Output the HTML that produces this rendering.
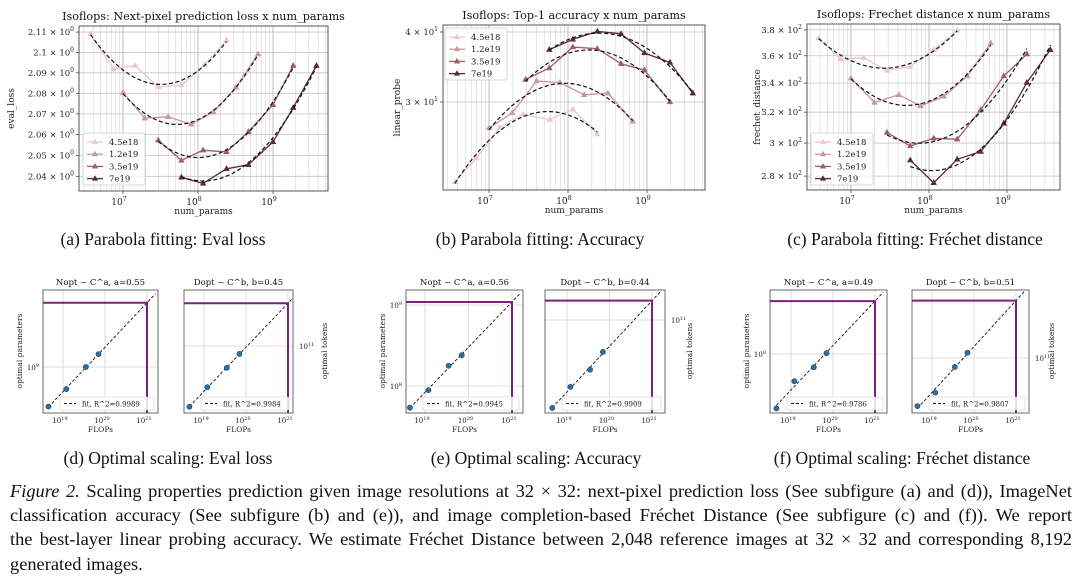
<!DOCTYPE html>
<html><head><meta charset="utf-8">
<style>
html,body{margin:0;padding:0;background:#fff;}
#wrap{position:relative;width:1080px;height:584px;overflow:hidden;}
svg{position:absolute;left:0;top:0;}
#caption{position:absolute;left:10px;top:479px;width:1062px;font-family:"Liberation Serif",serif;font-size:18.4px;line-height:24.2px;color:#111;}
#caption .ln{white-space:nowrap;text-align:justify;text-align-last:justify;}
#caption .ln.last{text-align-last:left;}
</style></head>
<body>
<div id="wrap">
<svg id="fig" width="1080" height="584" viewBox="0 0 1080 584"></svg>
<div id="caption">
<div class="ln"><i>Figure 2.</i> Scaling properties prediction given image resolutions at 32 × 32: next-pixel prediction loss (See subfigure (a) and (d)), ImageNet</div>
<div class="ln">classification accuracy (See subfigure (b) and (e)), and image completion-based Fréchet Distance (See subfigure (c) and (f)). We report</div>
<div class="ln">the best-layer linear probing accuracy. We estimate Fréchet Distance between 2,048 reference images at 32 × 32 and corresponding 8,192</div>
<div class="ln last">generated images.</div>
</div>
</div>
<script>
// ---------- DATA ----------
const seriesLabels = ['4.5e18','1.2e19','3.5e19','7e19'];
// (a) eval loss
const lossParams1 = [3.7e6,7.4e6,1.45e7,2.95e7,6e7,1.23e8,2.4e8];
const lossVals1   = [2.109,2.092,2.0935,2.083,2.084,2.094,2.106];
const lossParams2 = [1e7,1.95e7,4e7,8.1e7,1.6e8,3.2e8,6.3e8];
const lossVals2   = [2.0803,2.0679,2.0686,2.0650,2.0708,2.0829,2.0991];
const lossParams3 = [2.95e7,6e7,1.17e8,2.4e8,4.7e8,1e9,1.86e9];
const lossVals3   = [2.0573,2.0476,2.0525,2.0517,2.0614,2.0744,2.0935];
const lossParams4 = [6e7,1.17e8,2.4e8,4.7e8,1e9,1.86e9,3.8e9];
const lossVals4   = [2.0395,2.0366,2.0436,2.0455,2.0565,2.0730,2.0935];
// (b) accuracy
const accParams1 = [3.7e6,6.9e6,1.36e7,2.7e7,5.9e7,1.15e8,2.35e8];
const accVals1   = [21.6,23.8,27.0,28.5,27.9,29.1,26.3];
const accParams2 = [1e7,1.97e7,4e7,7.9e7,1.6e8,3.2e8,6.6e8];
const accVals2   = [26.96,28.7,32.7,32.5,30.9,31.1,27.7];
const accParams3 = [2.9e7,5.8e7,1.15e8,2.35e8,4.7e8,9.3e8,1.95e9];
const accVals3   = [32.9,34.5,37.6,37.35,35.1,34.2,30.0];
const accParams4 = [5.8e7,1.15e8,2.35e8,4.7e8,9.3e8,1.95e9,3.8e9];
const accVals4   = [37.2,38.8,40.1,39.7,36.7,35.3,31.1];
// (c) frechet
const fdParams1 = [3.85e6,7.3e6,1.45e7,2.9e7,5.75e7,1.15e8,2.3e8];
const fdVals1   = [373.5,357.5,358.5,349.2,352,364.5,379.5];
const fdParams2 = [1e7,2e7,4.1e7,7.8e7,1.55e8,3.1e8,6.2e8];
const fdVals2   = [343.5,326.5,331.8,324.2,330.7,345.1,369.7];
const fdParams3 = [2.9e7,5.75e7,1.15e8,2.3e8,4.6e8,9.1e8,1.8e9];
const fdVals3   = [306.7,298.2,303.0,302.4,321.5,345.1,361.3];
const fdParams4 = [5.75e7,1.15e8,2.3e8,4.6e8,9.1e8,1.8e9,3.6e9];
const fdVals4   = [289.5,276.1,290,294.7,312.6,340.4,364.5];
// tick labels
const lossTicks = [2.04,2.05,2.06,2.07,2.08,2.09,2.1,2.11];
const lossTickLabels = ['2.04','2.05','2.06','2.07','2.08','2.09','2.1','2.11'];
const accTicks = [30,40];
const accTickLabels = ['3','4'];
const fdTicks = [280,300,320,340,360,380];
const fdTickLabels = ['2.8','3','3.2','3.4','3.6','3.8'];
// bottom: optimal scaling
const flops = [4.5e18,1.2e19,3.5e19,7e19];
const lossNopt = [3.2e8,5.3e8,1e9,1.45e9];
const lossDopt = [2.4e10,3.8e10,6e10,8.3e10];
const accNopt = [5.4e7,8.9e7,1.78e8,2.4e8];
const accDopt = [1.48e10,2.34e10,3.4e10,5e10];
const fdNopt = [2.6e7,5.1e7,7.2e7,1.02e8];
const fdDopt = [2.8e10,4e10,7.9e10,1.15e11];
const fitR2 = ['0.9989','0.9984','0.9945','0.9909','0.9786','0.9807'];
const expLabels = ['a=0.55','b=0.45','a=0.56','b=0.44','a=0.49','b=0.51'];

// ---------- HELPERS ----------
const NS='http://www.w3.org/2000/svg';
const svg=document.getElementById('fig');
function mk(tag,attrs,parent){const e=document.createElementNS(NS,tag);for(const k in attrs)e.setAttribute(k,attrs[k]);(parent||svg).appendChild(e);return e;}
const SERIF='"DejaVu Serif","Liberation Serif",serif';
const colors=['#eec6cb','#c9979e','#9d5d68','#5b2a39'];
const lg=Math.log10;
function tri(g,x,y,c,s){return mk('path',{d:`M${x},${y-s} L${x+s*0.9},${y+s*0.6} L${x-s*0.9},${y+s*0.6} Z`,fill:c,stroke:c,'stroke-width':0.5},g);}
function fitQuad(xs,ys){
  let S=[0,0,0,0,0],T=[0,0,0];
  xs.forEach((x,i)=>{let p=1;for(let k=0;k<5;k++){S[k]+=p;if(k<3)T[k]+=p*ys[i];p*=x;}});
  const A=[[S[0],S[1],S[2],T[0]],[S[1],S[2],S[3],T[1]],[S[2],S[3],S[4],T[2]]];
  for(let i=0;i<3;i++){for(let j=i+1;j<3;j++){const f=A[j][i]/A[i][i];for(let k=i;k<4;k++)A[j][k]-=f*A[i][k];}}
  const c=[0,0,0];for(let i=2;i>=0;i--){let s=A[i][3];for(let k=i+1;k<3;k++)s-=A[i][k]*c[k];c[i]=s/A[i][i];}
  return x=>c[0]+c[1]*x+c[2]*x*x;
}

// ---------- TOP CHARTS ----------
function topChart(cfg){
  const g=mk('g',{});
  
  
  const {x0,x1,y0,y1,xl0,xl1,yl0,yl1}=cfg;
  const X=v=>x0+(lg(v)-xl0)/(xl1-xl0)*(x1-x0);
  const Y=v=>y1-(lg(v)-yl0)/(yl1-yl0)*(y1-y0);
  for(let d=6;d<=9;d++)for(let m=1;m<10;m++){const v=m*Math.pow(10,d);const px=X(v);if(px<=x0||px>=x1)continue;
    const ln=mk('line',{x1:px,x2:px,y1:y0,y2:y1,stroke:m===1?'#b8b8b8':'#d6d6d6','stroke-width':m===1?0.9:0.6},g);
    
    }
  cfg.ticks.forEach((t,i)=>{const py=Y(t);
    const ln=mk('line',{x1:x0,x2:x1,y1:py,y2:py,stroke:'#c4c4c4','stroke-width':0.8},g);
    
    
    mk('line',{x1:x0-3,x2:x0,y1:py,y2:py,stroke:'#333','stroke-width':0.7},g);
    const tx=mk('text',{x:x0-5,y:py+3,'text-anchor':'end','font-family':SERIF,'font-size':8.5,fill:'#222'},g);
    tx.textContent=cfg.tickLabels[i]+' × 10';
    const sp=mk('tspan',{dy:-4,'font-size':6},tx);sp.textContent=cfg.exp;
    
    });
  [7,8,9].forEach(d=>{const px=X(Math.pow(10,d));
    mk('line',{x1:px,x2:px,y1:y1,y2:y1+3,stroke:'#333','stroke-width':0.7},g);
    const tx=mk('text',{x:px-4,y:y1+14,'text-anchor':'middle','font-family':SERIF,'font-size':9,fill:'#222'},g);
    tx.textContent='10';const sp=mk('tspan',{dy:-4,'font-size':6.5},tx);sp.textContent=String(d);
    
    });
  const fr=mk('rect',{x:x0,y:y0,width:x1-x0,height:y1-y0,fill:'none',stroke:'#444','stroke-width':0.9},g);
  
  
  cfg.series.forEach((s,i)=>{
    const [xs,ys]=s;const c=colors[i];
    const pts=xs.map((x,k)=>X(x).toFixed(1)+','+Y(ys[k]).toFixed(1)).join(' ');
    const pl=mk('polyline',{points:pts,fill:'none',stroke:c,'stroke-width':1.3},g);
    
    
    xs.forEach((x,k)=>{const m=tri(g,X(x),Y(ys[k]),c,3.2);
      
      });
    const f=fitQuad(xs.map(lg),ys.map(lg));
    const a=lg(xs[0]),b=lg(xs[xs.length-1]);let d='';
    for(let k=0;k<=40;k++){const lx=a+(b-a)*k/40;const px=x0+(lx-xl0)/(xl1-xl0)*(x1-x0);const py=y1-(f(lx)-yl0)/(yl1-yl0)*(y1-y0);d+=(k?'L':'M')+px.toFixed(1)+','+py.toFixed(1);}
    const fp=mk('path',{d:d,fill:'none',stroke:'#111','stroke-width':1.2,'stroke-dasharray':'4,2.5'},g);
    
    
  });
  const L=cfg.legend;
  const lb=mk('rect',{x:L.x,y:L.y,width:62,height:52,rx:2,fill:'#fff','fill-opacity':0.85,stroke:'#ccc','stroke-width':0.8},g);
  
  
  seriesLabels.forEach((s,i)=>{const yy=L.y+9+i*12.2;
    mk('line',{x1:L.x+4,x2:L.x+20,y1:yy,y2:yy,stroke:colors[i],'stroke-width':1.3},g);
    tri(g,L.x+12,yy,colors[i],3);
    const t=mk('text',{x:L.x+26,y:yy+3,'font-family':SERIF,'font-size':8.5,fill:'#222'},g);t.textContent=s;
    
    });
  const tt=mk('text',{x:(x0+x1)/2,y:y0-6,'text-anchor':'middle','font-family':SERIF,'font-size':11.2,fill:'#111'},g);tt.textContent=cfg.title;
  
  
  const xt=mk('text',{x:(x0+x1)/2,y:y1+23,'text-anchor':'middle','font-family':SERIF,'font-size':9,fill:'#222'},g);xt.textContent='num_params';
  
  
  const yx=cfg.ylabX,yy=(y0+y1)/2;
  const yt=mk('text',{x:yx,y:yy,'text-anchor':'middle','font-family':SERIF,'font-size':9,fill:'#222',transform:`rotate(-90 ${yx} ${yy})`},g);yt.textContent=cfg.ylab;
  
  
  const cp=mk('text',{x:cfg.capX,y:245,'text-anchor':'middle','font-family':'"Liberation Serif",serif','font-size':17.5,fill:'#111'},g);cp.textContent=cfg.caption;
  
  
}
topChart({name:'eval-loss-chart',x0:79,x1:328,y0:26,y1:191,xl0:6.413,xl1:9.733,yl0:lg(2.033),yl1:lg(2.113),
  ticks:lossTicks,tickLabels:lossTickLabels,exp:'0',title:'Isoflops: Next-pixel prediction loss x num_params',ylab:'eval_loss',ylabX:14,
  series:[[lossParams1,lossVals1],[lossParams2,lossVals2],[lossParams3,lossVals3],[lossParams4,lossVals4]],legend:{x:83,y:133},capX:163,caption:'(a) Parabola fitting: Eval loss'});
topChart({name:'accuracy-chart',x0:443,x1:705,y0:25,y1:190,xl0:6.418,xl1:9.734,yl0:lg(20.89),yl1:lg(41.17),
  ticks:accTicks,tickLabels:accTickLabels,exp:'1',title:'Isoflops: Top-1 accuracy x num_params',ylab:'linear_probe',ylabX:400,
  series:[[accParams1,accVals1],[accParams2,accVals2],[accParams3,accVals3],[accParams4,accVals4]],legend:{x:445,y:28},capX:540,caption:'(b) Parabola fitting: Accuracy'});
topChart({name:'frechet-chart',x0:807,x1:1060,y0:24,y1:190,xl0:6.436,xl1:9.68,yl0:lg(272.0),yl1:lg(384.7),
  ticks:fdTicks,tickLabels:fdTickLabels,exp:'2',title:'Isoflops: Frechet distance x num_params',ylab:'frechet_distance',ylabX:760,
  series:[[fdParams1,fdVals1],[fdParams2,fdVals2],[fdParams3,fdVals3],[fdParams4,fdVals4]],legend:{x:811,y:133},capX:915,caption:'(c) Parabola fitting: Fréchet distance'});

// ---------- BOTTOM PANELS ----------
function scalePanel(p){
  const g=mk('g',{});
  
  
  const y0=290,y1=413;
  const X=lf=>p.x19+(lf-19)*p.dec;
  const Y=lv=>p.yrefPx-(lv-p.yref)*p.ppd;
  const cp=mk('clipPath',{id:'c'+p.name},g);mk('rect',{x:p.x0,y:y0,width:p.x1-p.x0,height:y1-y0},cp);
  const inner=mk('g',{'clip-path':`url(#c${p.name})`},g);
  [19,20,21].forEach(d=>{const px=X(d);
    mk('line',{x1:px,x2:px,y1:y0,y2:y1,stroke:'#d2d2d2','stroke-width':0.7},inner);
    const t=mk('text',{x:px-3,y:y1+10,'text-anchor':'middle','font-family':SERIF,'font-size':7,fill:'#222'},g);
    t.textContent='10';const sp=mk('tspan',{dy:-3,'font-size':5},t);sp.textContent=String(d);
    
    });
  p.yticks.forEach(d=>{const py=Y(d);
    mk('line',{x1:p.x0,x2:p.x1,y1:py,y2:py,stroke:'#d2d2d2','stroke-width':0.7},inner);
    const right=p.right;
    const t=mk('text',{x:right?p.x1+6:p.x0-4,y:py+3,'text-anchor':right?'start':'end','font-family':SERIF,'font-size':7,fill:'#222'},g);
    t.textContent='10';const sp=mk('tspan',{dy:-3,'font-size':5},t);sp.textContent=String(d);
    
    });
  const lx=flops.map(lg),ly=p.vals.map(lg);const n=lx.length;
  const mx=lx.reduce((a,b)=>a+b)/n,my=ly.reduce((a,b)=>a+b)/n;
  let sxy=0,sxx=0;lx.forEach((x,i)=>{sxy+=(x-mx)*(ly[i]-my);sxx+=(x-mx)*(x-mx);});
  const sl=sxy/sxx,ic=my-sl*mx;const F=x=>ic+sl*x;
  const fl=mk('line',{x1:X(lx[0]),y1:Y(F(lx[0])),x2:X(21.2),y2:Y(F(21.2)),stroke:'#111','stroke-width':0.9,'stroke-dasharray':'3,2'},inner);
  
  
  const py21=Y(F(21)),px21=X(21);
  const pl=mk('polyline',{points:`${p.x0},${py21} ${px21},${py21} ${px21},${y1}`,fill:'none',stroke:'#7d1f7d','stroke-width':2},inner);
  
  
  lx.forEach((x,i)=>{const c=mk('circle',{cx:X(x),cy:Y(ly[i]),r:2.6,fill:'#2f6e9e',stroke:'#1d4a6e','stroke-width':0.6},inner);
    
    });
  const fr=mk('rect',{x:p.x0,y:y0,width:p.x1-p.x0,height:y1-y0,fill:'none',stroke:'#444','stroke-width':0.8},g);
  
  
  const lgx=p.x0+17,lgy=397;
  const lbox=mk('rect',{x:lgx,y:lgy,width:p.x1-p.x0-21,height:13,fill:'#fff','fill-opacity':0.85,stroke:'#ccc','stroke-width':0.6,rx:1.5},g);
  
  
  mk('line',{x1:lgx+4,x2:lgx+16,y1:lgy+6.5,y2:lgy+6.5,stroke:'#111','stroke-width':0.9,'stroke-dasharray':'3,2'},g);
  const lt=mk('text',{x:lgx+22,y:lgy+9.5,'font-family':SERIF,'font-size':7,fill:'#222'},g);lt.textContent='fit, R^2='+p.r2;
  
  
  const tt=mk('text',{x:(p.x0+p.x1)/2,y:y0-5,'text-anchor':'middle','font-family':SERIF,'font-size':8.5,fill:'#111'},g);tt.textContent=p.title;
  
  
  const xt=mk('text',{x:(p.x0+p.x1)/2,y:y1+19,'text-anchor':'middle','font-family':SERIF,'font-size':7.5,fill:'#222'},g);xt.textContent='FLOPs';
  
  
  const yx=p.ylabX,yy=351;
  const yt=mk('text',{x:yx,y:yy,'text-anchor':'middle','font-family':SERIF,'font-size':7.5,fill:'#222',transform:`rotate(-90 ${yx} ${yy})`},g);yt.textContent=p.ylab;
  
  
}
scalePanel({name:'loss-nopt',x0:43,x1:158,x19:63,dec:42,yref:9,yrefPx:367,ppd:80,yticks:[9],right:false,vals:lossNopt,r2:fitR2[0],title:'Nopt ~ C^a, '+expLabels[0],ylab:'optimal parameters',ylabX:22});
scalePanel({name:'loss-dopt',x0:184,x1:293,x19:204,dec:42,yref:11,yrefPx:346,ppd:98,yticks:[11],right:true,vals:lossDopt,r2:fitR2[1],title:'Dopt ~ C^b, '+expLabels[1],ylab:'optimal tokens',ylabX:327});
scalePanel({name:'acc-nopt',x0:406,x1:523,x19:425,dec:43.5,yref:9,yrefPx:305,ppd:81,yticks:[8,9],right:false,vals:accNopt,r2:fitR2[2],title:'Nopt ~ C^a, '+expLabels[2],ylab:'optimal parameters',ylabX:385});
scalePanel({name:'acc-dopt',x0:545,x1:665,x19:567,dec:42.5,yref:11,yrefPx:320,ppd:106,yticks:[11],right:true,vals:accDopt,r2:fitR2[3],title:'Dopt ~ C^b, '+expLabels[3],ylab:'optimal tokens',ylabX:692});
scalePanel({name:'fd-nopt',x0:770,x1:887,x19:791,dec:42,yref:8,yrefPx:354,ppd:93,yticks:[8],right:false,vals:fdNopt,r2:fitR2[4],title:'Nopt ~ C^a, '+expLabels[4],ylab:'optimal parameters',ylabX:749});
scalePanel({name:'fd-dopt',x0:912,x1:1029,x19:932,dec:42,yref:11,yrefPx:358,ppd:87,yticks:[11],right:true,vals:fdDopt,r2:fitR2[5],title:'Dopt ~ C^b, '+expLabels[5],ylab:'optimal tokens',ylabX:1054});

[['(d) Optimal scaling: Eval loss',168],['(e) Optimal scaling: Accuracy',536],['(f) Optimal scaling: Fréchet distance',902]].forEach(c=>{
  const t=mk('text',{x:c[1],y:464,'text-anchor':'middle','font-family':'"Liberation Serif",serif','font-size':17.5,fill:'#111'});
  t.textContent=c[0];
  
  
});
</script>
</body></html>
